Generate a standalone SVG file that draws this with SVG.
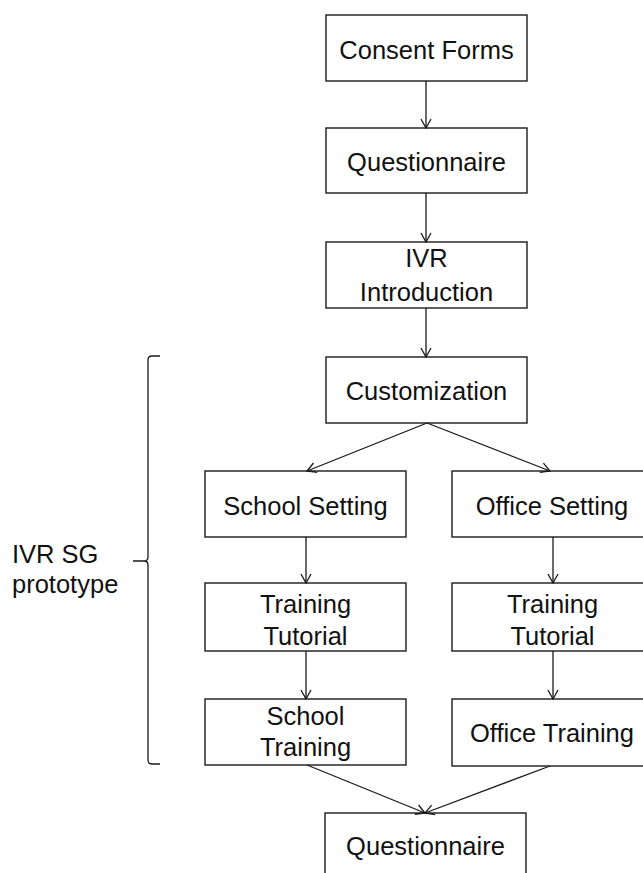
<svg xmlns="http://www.w3.org/2000/svg" width="643" height="873" viewBox="0 0 643 873">
<defs>
<marker id="arr" viewBox="0 0 12 12" refX="11" refY="6" markerWidth="12" markerHeight="12" markerUnits="userSpaceOnUse" orient="auto">
<polyline points="2,1 11,6 2,11" fill="none" stroke="#1a1a1a" stroke-width="1.3"/>
</marker>
</defs>
<style>
rect{fill:#fff;stroke:#1a1a1a;stroke-width:1.4}
text{font-family:"Liberation Sans",Arial,sans-serif;font-size:25.5px;fill:#111;text-anchor:middle}
.c line{stroke:#1a1a1a;stroke-width:1.3;marker-end:url(#arr)}
.lbl{text-anchor:start}
</style>
<rect x="0" y="0" width="643" height="873" style="fill:#fff;stroke:none"/>
<g id="n1"><rect x="326" y="15" width="201" height="66"/><text x="426.5" y="59">Consent Forms</text></g>
<g id="n2"><rect x="326" y="128" width="201" height="65"/><text x="426.5" y="171">Questionnaire</text></g>
<g id="n3"><rect x="326" y="242" width="201" height="66"/><text x="426.5" y="267">IVR</text><text x="426.5" y="301">Introduction</text></g>
<g id="n4"><rect x="326" y="357" width="201" height="66"/><text x="426.5" y="400">Customization</text></g>
<g id="n5"><rect x="205" y="471" width="201" height="66"/><text x="305.5" y="515">School Setting</text></g>
<g id="n6"><rect x="452" y="471" width="201" height="66"/><text x="552" y="515">Office Setting</text></g>
<g id="n7"><rect x="205" y="583" width="201" height="68"/><text x="305.5" y="613">Training</text><text x="305.5" y="645">Tutorial</text></g>
<g id="n8"><rect x="452" y="583" width="201" height="68"/><text x="552.5" y="613">Training</text><text x="552.5" y="645">Tutorial</text></g>
<g id="n9"><rect x="205" y="699" width="201" height="66"/><text x="305.5" y="725">School</text><text x="305.5" y="756">Training</text></g>
<g id="n10"><rect x="452" y="699" width="201" height="67"/><text x="552" y="742">Office Training</text></g>
<g id="n11"><rect x="325" y="813" width="201" height="70"/><text x="425.5" y="855">Questionnaire</text></g>
<g id="group-label">
<path d="M160,356 L152,356 Q148,356 148,360 L148,557 Q148,561 144,561 L133,561 M144,561 Q148,561 148,565 L148,760 Q148,764 152,764 L160,764" fill="none" stroke="#1a1a1a" stroke-width="1.3"/>
<text class="lbl" x="12" y="563">IVR SG</text>
<text class="lbl" x="12" y="593">prototype</text>
</g>
<g id="connectors" class="c">
<line x1="426" y1="81" x2="426" y2="128"/>
<line x1="426" y1="193" x2="426" y2="242"/>
<line x1="426" y1="308" x2="426" y2="357"/>
<line x1="427" y1="423" x2="307" y2="471"/>
<line x1="427" y1="423" x2="550" y2="471"/>
<line x1="306" y1="537" x2="306" y2="583"/>
<line x1="553" y1="537" x2="553" y2="583"/>
<line x1="306" y1="651" x2="306" y2="699"/>
<line x1="553" y1="651" x2="553" y2="699"/>
<line x1="307" y1="765" x2="425" y2="813"/>
<line x1="550" y1="766" x2="425" y2="813"/>
</g>
</svg>
